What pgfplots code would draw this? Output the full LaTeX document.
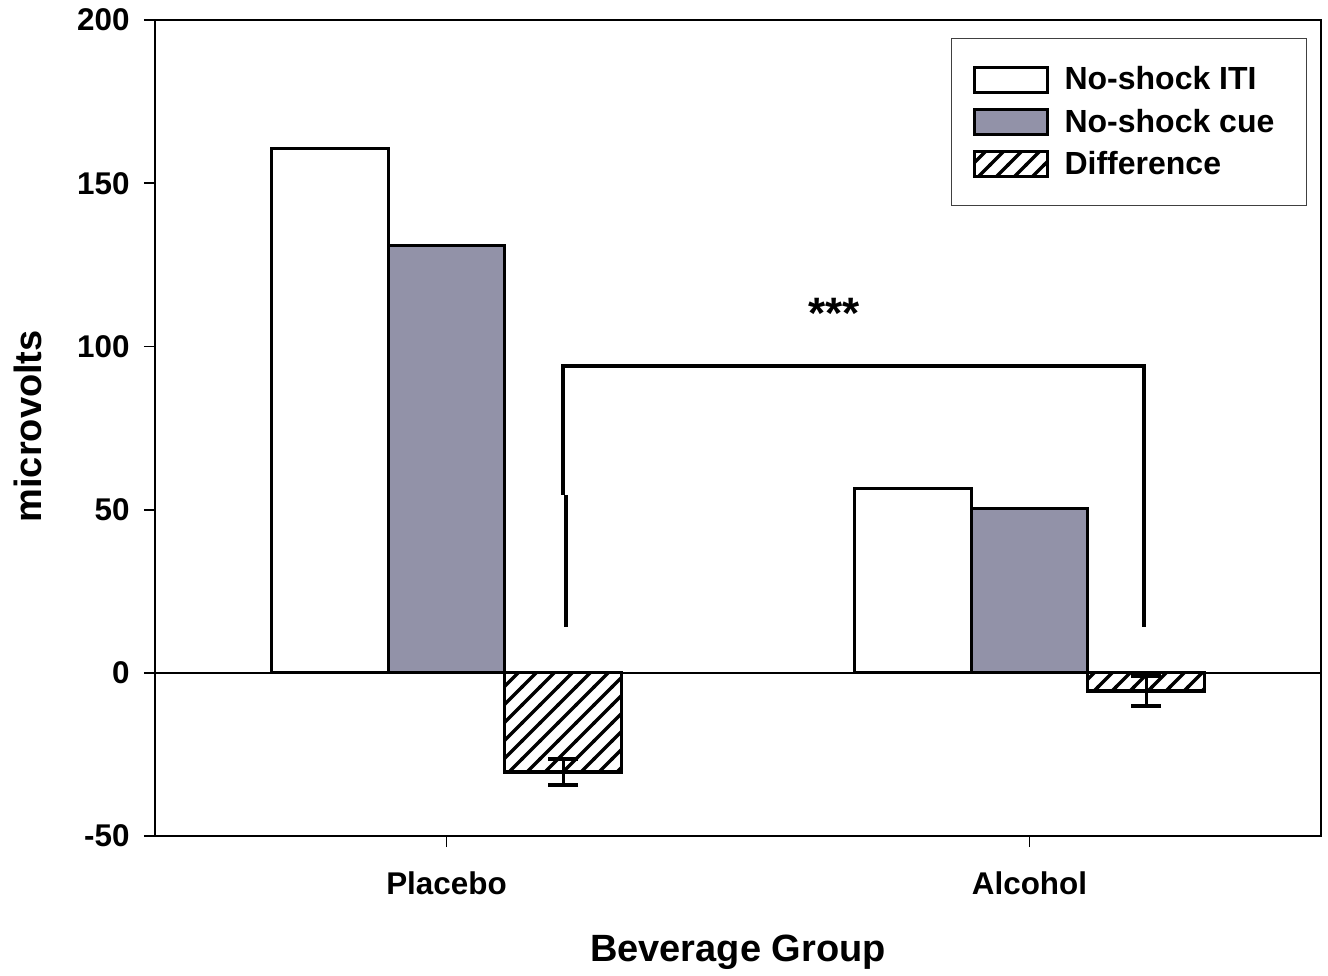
\documentclass[border=0pt]{standalone}
\usepackage{fontspec}
\setmainfont{Liberation Sans}
\usepackage{pgfplots}
\pgfplotsset{compat=1.18}
\usetikzlibrary{patterns}
\definecolor{cuegray}{RGB}{146,146,168}
\pgfdeclarepatternformonly{thickhatch}{\pgfqpoint{-1pt}{-1pt}}{\pgfqpoint{10pt}{10pt}}{\pgfqpoint{9pt}{9pt}}{%
  \pgfsetlinewidth{1.6pt}%
  \pgfpathmoveto{\pgfqpoint{-0.5pt}{-0.5pt}}%
  \pgfpathlineto{\pgfqpoint{9.5pt}{9.5pt}}%
  \pgfusepath{stroke}%
}

\begin{document}
\begin{tikzpicture}
\begin{axis}[
  name=ax,
  scale only axis,
  width=583pt, height=408pt,
  xmin=-0.5, xmax=1.5,
  ymin=-50, ymax=200,
  xtick={0,1}, xticklabels={Placebo,Alcohol},
  ytick={-50,0,50,100,150,200},
  yticklabels={-50,0,50,100,150,200},
  tick pos=left,
  tick align=outside,
  major tick length=5.5pt,
  every tick/.style={black, line width=0.9pt},
  axis line style={line width=1pt},
  ticklabel style={font=\fontsize{15.7}{18}\selectfont\bfseries, inner sep=0pt},
  xticklabel style={anchor=base, yshift=-23.5pt},
  yticklabel style={anchor=east, xshift=-7pt},
  xlabel={Beverage Group},
  xlabel style={at={(axis description cs:0.5,-0.1544)}, anchor=base, inner sep=0pt,
    font=\fontsize{19}{22}\selectfont\bfseries},
  ylabel={microvolts},
  ylabel style={at={(axis description cs:-0.1089,0.502)}, anchor=center, inner sep=0pt,
    font=\fontsize{19}{22}\selectfont\bfseries},
  ybar, bar width=0.2,
  legend cell align=left,
  legend style={at={(0.988,0.978)}, anchor=north east, draw=black!75, line width=0.6pt,
    font=\fontsize{16}{19}\selectfont\bfseries,
    inner xsep=10.5pt, inner ysep=13.5pt, row sep=7.2pt, column sep=8pt,
    nodes={inner sep=0pt}},
]
\draw[line width=0.8pt] (axis cs:-0.5,0) -- (axis cs:1.5,0);

\addplot[fill=white, draw=black, line width=1.6pt, bar shift=-0.2,
  legend image code/.code={\draw[fill=white, draw=black, line width=1.5pt] (0pt,-6.25pt) rectangle (36.5pt,6.25pt);}]
  coordinates {(0,160.7) (1,56.5)};
\addlegendentry{No-shock ITI}

\addplot[fill=cuegray, draw=black, line width=1.6pt, bar shift=0,
  legend image code/.code={\draw[fill=cuegray, draw=black, line width=1.5pt] (0pt,-6.25pt) rectangle (36.5pt,6.25pt);}]
  coordinates {(0,131) (1,50.3)};
\addlegendentry{No-shock cue\hspace*{5.5pt}}

\addplot[pattern=thickhatch, draw=black, line width=1.6pt, bar shift=0.2,
  legend image code/.code={\draw[pattern=thickhatch, draw=black, line width=1.5pt] (0pt,-6.25pt) rectangle (36.5pt,6.25pt);},
  error bars/.cd, y dir=both, y explicit,
  error bar style={line width=1.6pt, black},
  error mark options={rotate=90, mark size=7.5pt, line width=1.6pt, black}]
  coordinates {(0,-30.4) +- (0,4) (1,-5.6) +- (0,4.6)};
\addlegendentry{Difference}

\draw[line width=2pt, line join=miter] (axis cs:0.2,54.5) -- (axis cs:0.2,94) -- (axis cs:1.197,94) -- (axis cs:1.197,14);
\draw[line width=2pt] (axis cs:0.2045,54.5) -- (axis cs:0.2045,14);
\node[anchor=base, font=\fontsize{22}{24}\selectfont\bfseries, inner sep=0pt] at (axis cs:0.665,105.5) {***};
\end{axis}
\path (ax.north east) ++(3.5pt,10pt) coordinate (tr);
\path (ax.south west) ++(-77.5pt,-69.5pt) rectangle (tr);
\end{tikzpicture}
\end{document}
